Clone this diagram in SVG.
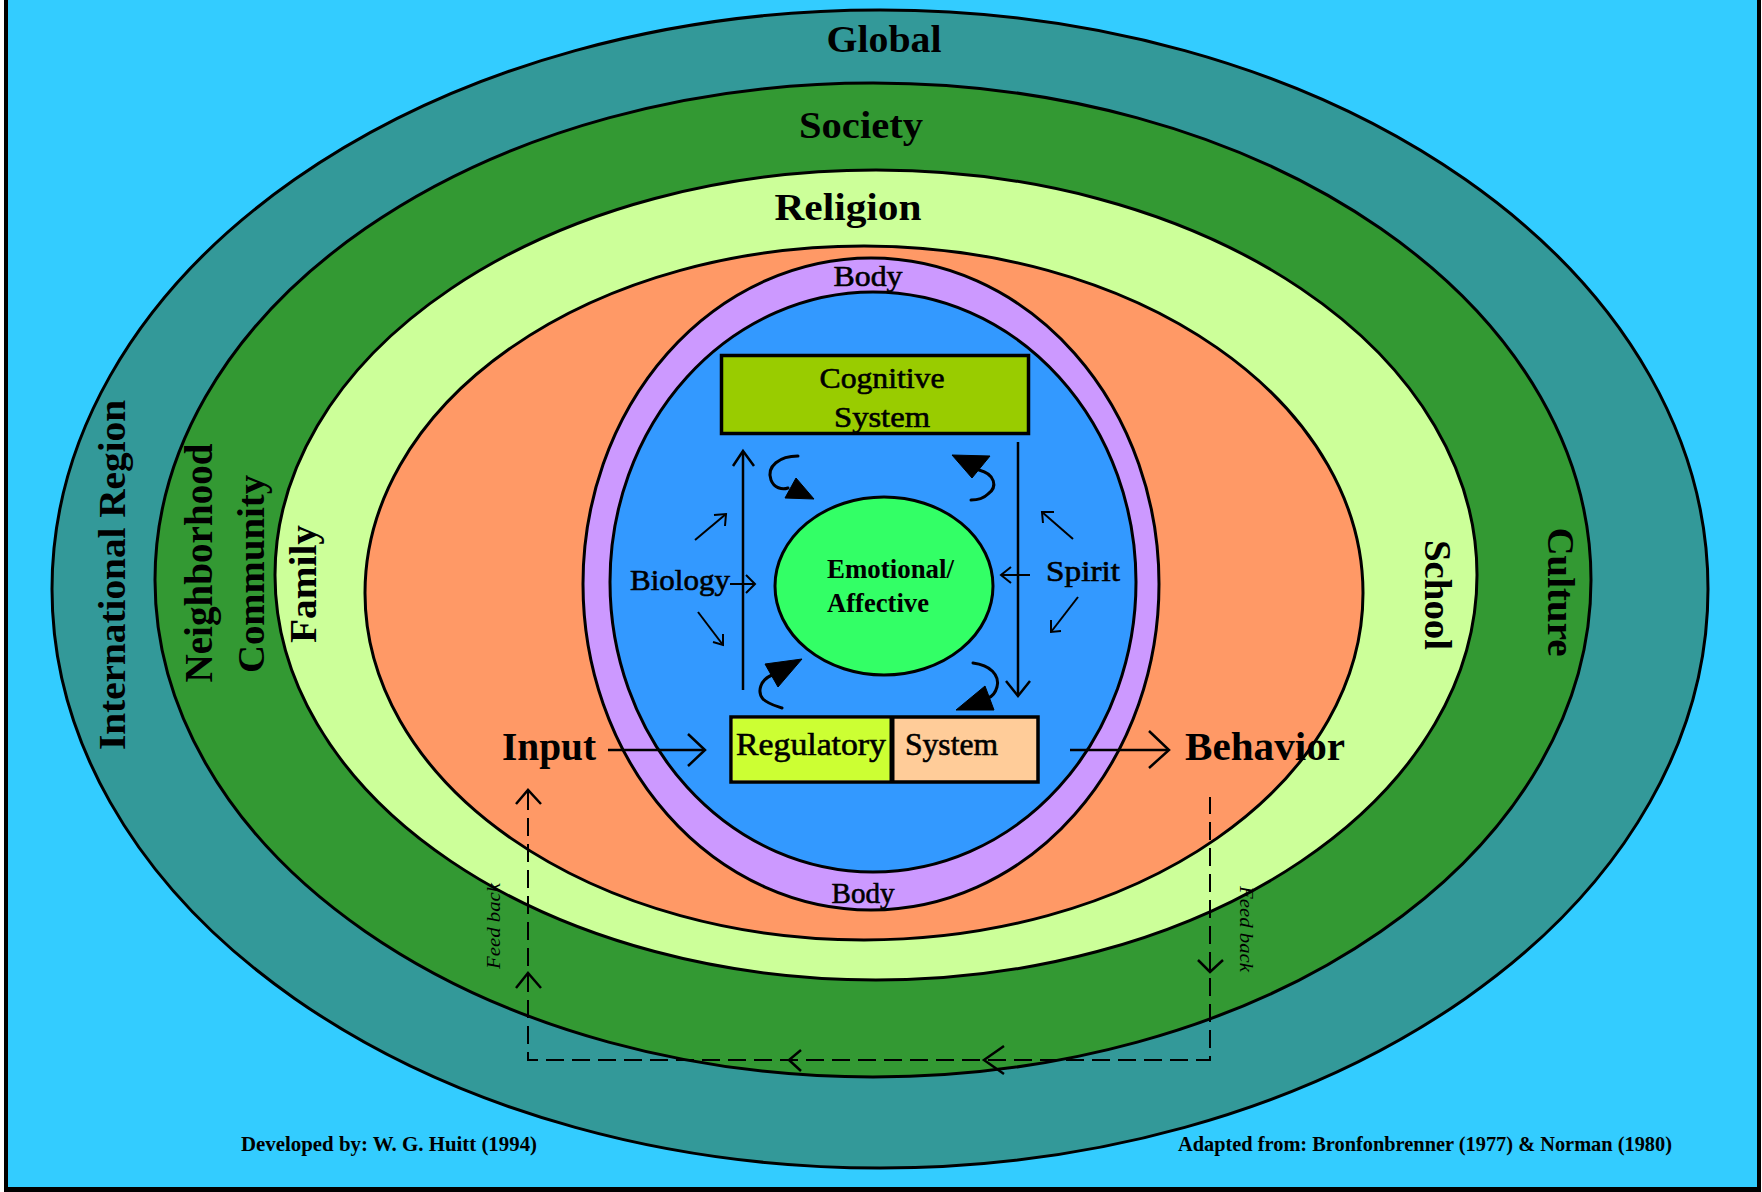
<svg xmlns="http://www.w3.org/2000/svg" width="1762" height="1192" viewBox="0 0 1762 1192">
<style>
.ring{stroke:#000;stroke-width:3}
.box{stroke:#000;stroke-width:3.5}
.t{font-family:"Liberation Serif","Times New Roman",serif;fill:#000}
.b{font-weight:bold}
.h{stroke:#000;stroke-width:0.6}
.i{font-style:italic}
.ln{stroke:#000;stroke-width:2.5;fill:none}
.thin{stroke:#000;stroke-width:2;fill:none}
.dash{stroke:#000;stroke-width:2;fill:none;stroke-dasharray:18 8}
.head{stroke:#000;stroke-width:2.5;fill:none;stroke-linejoin:miter}
.fhead{fill:#000;stroke:#000;stroke-width:1}
.curl{stroke:#000;stroke-width:3;fill:none;stroke-linecap:round}
</style>
<rect width="1762" height="1192" fill="#fff"/>
<rect x="4" y="0" width="1757" height="1192" fill="#000"/>
<rect x="8" y="0" width="1749" height="1187" fill="#33CCFF"/>

<g id="global">
  <ellipse class="ring" cx="880" cy="589" rx="828" ry="579" fill="#339999"/>
  <text class="t b" x="884" y="52" font-size="37" text-anchor="middle" textLength="115" lengthAdjust="spacingAndGlyphs">Global</text>
  <text class="t b" transform="translate(125,575) rotate(-90)" font-size="38" text-anchor="middle" textLength="350" lengthAdjust="spacingAndGlyphs">International Region</text>
</g>
<g id="society">
  <ellipse class="ring" cx="873" cy="580" rx="718" ry="497" fill="#339933"/>
  <text class="t b" x="861" y="138" font-size="37" text-anchor="middle" textLength="124" lengthAdjust="spacingAndGlyphs">Society</text>
  <text class="t b" transform="translate(212,563) rotate(-90)" font-size="39" text-anchor="middle" textLength="239" lengthAdjust="spacingAndGlyphs">Neighborhood</text>
  <text class="t b" transform="translate(264,574) rotate(-90)" font-size="38" text-anchor="middle" textLength="198" lengthAdjust="spacingAndGlyphs">Community</text>
  <text class="t b" transform="translate(1548,592) rotate(90)" font-size="38" text-anchor="middle" textLength="129" lengthAdjust="spacingAndGlyphs">Culture</text>
</g>
<g id="religion">
  <ellipse class="ring" cx="876" cy="575" rx="601" ry="405" fill="#CCFF99"/>
  <text class="t b" x="848" y="220" font-size="38" text-anchor="middle" textLength="147" lengthAdjust="spacingAndGlyphs">Religion</text>
  <text class="t b" transform="translate(316,584) rotate(-90)" font-size="38" text-anchor="middle" textLength="118" lengthAdjust="spacingAndGlyphs">Family</text>
  <text class="t b" transform="translate(1425,595) rotate(90)" font-size="38" text-anchor="middle" textLength="110" lengthAdjust="spacingAndGlyphs">School</text>
</g>
<g id="environment">
  <ellipse class="ring" cx="864" cy="593" rx="499" ry="347" fill="#FF9966"/>
</g>
<g id="body">
  <ellipse class="ring" cx="871" cy="584" rx="288" ry="326" fill="#CC99FF"/>
  <text class="t h" x="868" y="286" font-size="30" text-anchor="middle" textLength="69" lengthAdjust="spacingAndGlyphs">Body</text>
  <text class="t h" x="863" y="903" font-size="30" text-anchor="middle" textLength="63" lengthAdjust="spacingAndGlyphs">Body</text>
</g>
<g id="person">
  <ellipse class="ring" cx="873" cy="582" rx="263" ry="290" fill="#3399FF"/>
  <text class="t h" x="630" y="590" font-size="30" textLength="100" lengthAdjust="spacingAndGlyphs">Biology</text>
  <text class="t h" x="1046" y="581" font-size="30" textLength="74" lengthAdjust="spacingAndGlyphs">Spirit</text>
</g>
<g id="cognitive">
  <rect class="box" x="721.5" y="355.5" width="307" height="78" fill="#99CC00"/>
  <text class="t h" x="882" y="388" font-size="30" text-anchor="middle" textLength="125" lengthAdjust="spacingAndGlyphs">Cognitive</text>
  <text class="t h" x="882" y="427" font-size="30" text-anchor="middle" textLength="96" lengthAdjust="spacingAndGlyphs">System</text>
</g>
<g id="emotional">
  <ellipse class="ring" cx="884" cy="586" rx="109" ry="89" fill="#33FF66"/>
  <text class="t b" x="827" y="578" font-size="27" textLength="127" lengthAdjust="spacingAndGlyphs">Emotional/</text>
  <text class="t b" x="827" y="612" font-size="27" textLength="102" lengthAdjust="spacingAndGlyphs">Affective</text>
</g>
<g id="regulatory">
  <rect class="box" x="731" y="717" width="307" height="65" fill="#FFCC99"/>
  <rect x="732.8" y="718.8" width="159" height="61.4" fill="#CCFF33"/>
  <line x1="892" y1="717" x2="892" y2="782" stroke="#000" stroke-width="5"/>
  <text class="t h" x="736" y="755" font-size="31" textLength="150" lengthAdjust="spacingAndGlyphs">Regulatory</text>
  <text class="t h" x="905" y="755" font-size="31" textLength="93" lengthAdjust="spacingAndGlyphs">System</text>
</g>
<g id="input">
  <text class="t b" x="502" y="760" font-size="40" textLength="94" lengthAdjust="spacingAndGlyphs">Input</text>
</g>
<g id="behavior">
  <text class="t b" x="1185" y="760" font-size="40" textLength="160" lengthAdjust="spacingAndGlyphs">Behavior</text>
</g>
<g id="feedback-labels">
  <text class="t i" transform="translate(500,926) rotate(-90)" font-size="19" text-anchor="middle" textLength="86" lengthAdjust="spacingAndGlyphs">Feed back</text>
  <text class="t i" transform="translate(1240,929) rotate(90)" font-size="19" text-anchor="middle" textLength="86" lengthAdjust="spacingAndGlyphs">Feed back</text>
</g>
<g id="credits">
  <text class="t b" x="241" y="1151" font-size="21" textLength="296" lengthAdjust="spacingAndGlyphs">Developed by: W. G. Huitt (1994)</text>
  <text class="t b" x="1178" y="1151" font-size="21" textLength="494" lengthAdjust="spacingAndGlyphs">Adapted from: Bronfonbrenner (1977) &amp; Norman (1980)</text>
</g>

<g id="connectors">
  <line class="ln" x1="743" y1="690" x2="743" y2="452"/>
  <polyline class="head" points="733,466 743,451 754,466"/>
  <line class="ln" x1="1018" y1="442" x2="1018" y2="695"/>
  <polyline class="head" points="1006,681 1018,696 1030,681"/>

  <line class="thin" x1="730" y1="584" x2="755" y2="584"/>
  <polyline class="thin" points="746,575 755,584 746,593"/>
  <line class="thin" x1="1030" y1="575" x2="1001" y2="575"/>
  <polyline class="thin" points="1011,567 1001,575 1011,583"/>
  <line class="thin" x1="695" y1="540" x2="726" y2="514"/>
  <polyline class="thin" points="714,515 726,514 725,526"/>
  <line class="thin" x1="698" y1="612" x2="723" y2="645"/>
  <polyline class="thin" points="713,642 723,645 723,634"/>
  <line class="thin" x1="1073" y1="539" x2="1042" y2="512"/>
  <polyline class="thin" points="1054,512 1042,512 1043,523"/>
  <line class="thin" x1="1078" y1="597" x2="1051" y2="632"/>
  <polyline class="thin" points="1051,620 1051,632 1061,631"/>

  <path class="curl" d="M798,456 C780,456 766,466 771,480 C774,488 782,490 788,488"/>
  <polygon class="fhead" points="814,499 796,478 785,498"/>
  <path class="curl" d="M979,470 C995,474 998,487 988,494 C983,499 976,500 971,500"/>
  <polygon class="fhead" points="952,455 990,456 972,478"/>
  <path class="curl" d="M772,675 C760,680 757,692 763,699 C768,704 776,706 782,708"/>
  <polygon class="fhead" points="802,659 765,664 778,687"/>
  <path class="curl" d="M973,663 C990,665 1000,675 997,687 C995,694 991,697 988,698"/>
  <polygon class="fhead" points="956,710 994,710 985,686"/>

  <line class="ln" x1="608" y1="750" x2="704" y2="750"/>
  <polyline class="head" points="688,734 705,750 688,766"/>
  <line class="ln" x1="1070" y1="750" x2="1167" y2="750"/>
  <polyline class="head" points="1149,731 1169,750 1149,768"/>

  <path class="dash" d="M528,792 V1060 H1210 V797"/>
  <polyline class="head" points="516,804 528,790 541,804"/>
  <polyline class="head" points="516,988 528,973 541,988"/>
  <polyline class="head" points="1198,960 1210,972 1223,960"/>
  <polyline class="head" points="801,1050 789,1060 801,1071"/>
  <polyline class="head" points="1004,1046 984,1060 1004,1074"/>
</g>
</svg>
